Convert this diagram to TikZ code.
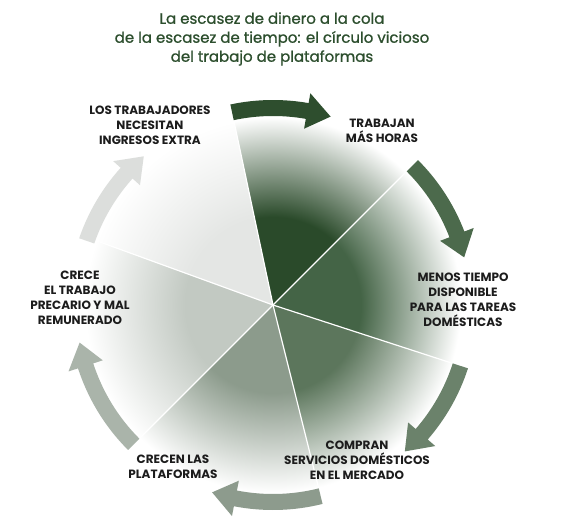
\documentclass[tikz,border=0pt]{standalone}
\usepackage{fontspec}
\setmainfont{Poppins}
\newfontfamily\titlefont{Poppins}[FakeBold=0.9]
\usepackage{tikz}
\usetikzlibrary{calc}
\usepackage{xcolor}

\definecolor{titlegreen}{HTML}{2C4E2D}
\definecolor{labelblack}{HTML}{1C1C1C}
\definecolor{secA}{HTML}{2A4A2A}
\definecolor{secB}{HTML}{446446}
\definecolor{secC}{HTML}{5C765C}
\definecolor{secD}{HTML}{8C9B8C}
\definecolor{secE}{HTML}{C2C9C2}
\definecolor{secF}{HTML}{E4E6E4}
\definecolor{arrA}{HTML}{2E4E2E}
\definecolor{arrB}{HTML}{4C6A4C}
\definecolor{arrC}{HTML}{6B826B}
\definecolor{arrD}{HTML}{8D9B8D}
\definecolor{arrE}{HTML}{AAB4AA}
\definecolor{arrF}{HTML}{DCDEDC}

\colorlet{sectcol}{white}
\pgfdeclareradialshading[sectcol]{sectshade}{\pgfpoint{0bp}{0bp}}{%
  color(0bp)=(sectcol);color(11bp)=(sectcol);color(23.5bp)=(white);color(50bp)=(white)}

% arrow along the circle: start angle, tip angle, colour
\newcommand{\cycarrow}[3]{%
  \pgfmathsetmacro{\hb}{#2+7}
  \fill[#3] (#1:205) arc[start angle=#1,end angle=\hb,radius=205]
    -- (\hb:215) -- (#2:197) -- (\hb:179) -- (\hb:189)
    arc[start angle=\hb,end angle=#1,radius=189] -- cycle;}

\begin{document}
\begin{tikzpicture}[x=1pt,y=1pt,
    lbl/.style={font=\fontsize{12}{15}\selectfont\bfseries,text=labelblack,align=center,inner sep=0pt},
    ttl/.style={font=\titlefont\fontsize{15}{19}\selectfont,text=titlegreen,align=center,inner sep=0pt}]
  \useasboundingbox[fill=white] (0,0) rectangle (567,522);

  \begin{scope}[shift={(273,217)}]
    \foreach \a/\b/\c in {45/102/secA,-18/45/secB,-76/-18/secC,-135/-76/secD,-200/-135/secE,102/160/secF}{
      \begin{scope}
        \clip (0,0) -- (\a:202) arc[start angle=\a,end angle=\b,radius=202] -- cycle;
        \colorlet{sectcol}{\c}
        \shade[shading=sectshade] (0,0) circle (200);
      \end{scope}
    }
    \foreach \a in {102,45,-18,-76,-135,160}
      \draw[white,line width=1.2pt] (0,0) -- (\a:192);

    \cycarrow{102}{73}{arrA}
    \cycarrow{45}{14}{arrB}
    \cycarrow{-18}{-48}{arrC}
    \cycarrow{-76}{-108}{arrD}
    \cycarrow{-135}{-169}{arrE}
    \cycarrow{161}{131}{arrF}
  \end{scope}

  \node[ttl] (title) at (272,483) {La escasez de dinero a la cola\\de la escasez de tiempo: el círculo vicioso\\del trabajo de plataformas};

  \node[lbl] (ingresos) at (150,397) {LOS TRABAJADORES\\NECESITAN\\INGRESOS EXTRA};
  \node[lbl] (horas) at (382,391) {TRABAJAN\\MÁS HORAS};
  \node[lbl] (tiempo) at (463,222) {MENOS TIEMPO\\DISPONIBLE\\PARA LAS TAREAS\\DOMÉSTICAS};
  \node[lbl] (compran) at (357,62) {COMPRAN\\SERVICIOS DOMÉSTICOS\\EN EL MERCADO};
  \node[lbl] (plataformas) at (173,55) {CRECEN LAS\\PLATAFORMAS};
  \node[lbl] (precario) at (80,224) {CRECE\\EL TRABAJO\\PRECARIO Y MAL\\REMUNERADO};
\end{tikzpicture}
\end{document}
